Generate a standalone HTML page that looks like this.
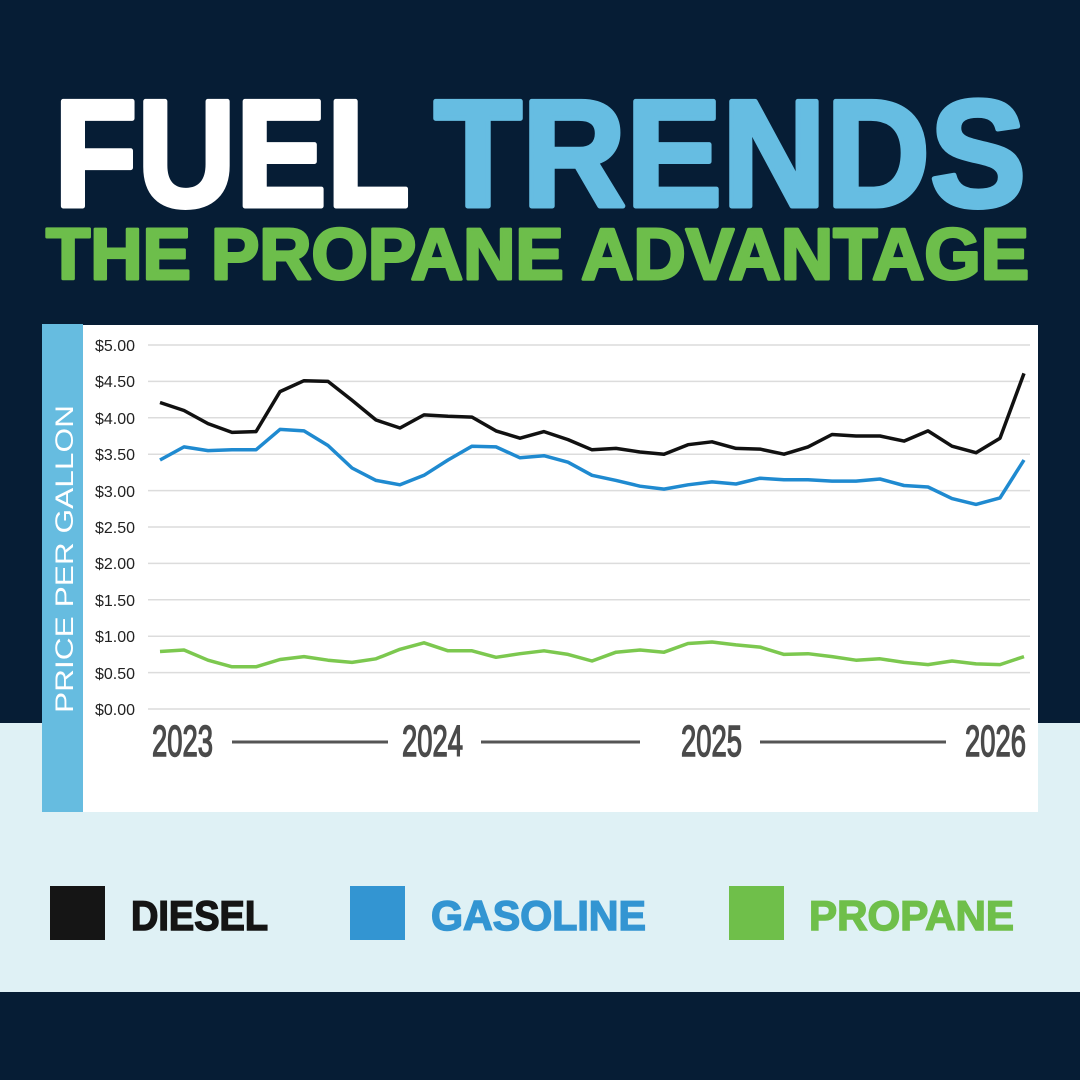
<!DOCTYPE html>
<html><head><meta charset="utf-8"><style>
html,body{margin:0;padding:0;background:#061d35;}
svg{display:block}
</style></head><body>
<svg width="1080" height="1080" viewBox="0 0 1080 1080" xmlns="http://www.w3.org/2000/svg">
<rect x="0" y="0" width="1080" height="1080" fill="#061d35"/>
<rect x="0" y="723" width="1080" height="269" fill="#dff1f5"/>
<text x="54" y="206" font-family="Liberation Sans, sans-serif" font-weight="bold" font-size="152" fill="#ffffff" stroke="#ffffff" stroke-width="5" stroke-linejoin="round" textLength="356" lengthAdjust="spacingAndGlyphs">FUEL</text>
<text x="434" y="206" font-family="Liberation Sans, sans-serif" font-weight="bold" font-size="152" fill="#66bde2" stroke="#66bde2" stroke-width="5" stroke-linejoin="round" textLength="592" lengthAdjust="spacingAndGlyphs">TRENDS</text>
<text x="46" y="279" font-family="Liberation Sans, sans-serif" font-weight="bold" font-size="72" fill="#6dbe4b" stroke="#6dbe4b" stroke-width="3" stroke-linejoin="round" textLength="983" lengthAdjust="spacingAndGlyphs">THE PROPANE ADVANTAGE</text>
<rect x="82" y="325" width="956" height="487" fill="#ffffff"/>
<rect x="42" y="324" width="41" height="488" fill="#66bce0"/>
<text transform="translate(73,713) rotate(-90)" font-family="Liberation Sans, sans-serif" font-size="25" fill="#ffffff" textLength="308" lengthAdjust="spacingAndGlyphs">PRICE PER GALLON</text>
<g stroke="#dcdcdc" stroke-width="1.5">
<line x1="148" x2="1030" y1="345" y2="345"/><line x1="148" x2="1030" y1="381.4" y2="381.4"/><line x1="148" x2="1030" y1="417.8" y2="417.8"/><line x1="148" x2="1030" y1="454.2" y2="454.2"/><line x1="148" x2="1030" y1="490.6" y2="490.6"/><line x1="148" x2="1030" y1="527" y2="527"/><line x1="148" x2="1030" y1="563.4" y2="563.4"/><line x1="148" x2="1030" y1="599.8" y2="599.8"/><line x1="148" x2="1030" y1="636.2" y2="636.2"/><line x1="148" x2="1030" y1="672.6" y2="672.6"/><line x1="148" x2="1030" y1="709" y2="709"/>
</g>
<g font-family="Liberation Sans, sans-serif" font-size="16" fill="#222">
<text x="95" y="351">$5.00</text><text x="95" y="387">$4.50</text><text x="95" y="424">$4.00</text><text x="95" y="460">$3.50</text><text x="95" y="497">$3.00</text><text x="95" y="533">$2.50</text><text x="95" y="569">$2.00</text><text x="95" y="606">$1.50</text><text x="95" y="642">$1.00</text><text x="95" y="679">$0.50</text><text x="95" y="715">$0.00</text>
</g>
<g font-family="Liberation Sans Narrow, Liberation Sans, sans-serif" font-size="44" fill="#4a4a4a" stroke="#4a4a4a" stroke-width="1.5">
<text x="152" y="756" textLength="61" lengthAdjust="spacingAndGlyphs">2023</text>
<text x="402" y="756" textLength="61" lengthAdjust="spacingAndGlyphs">2024</text>
<text x="681" y="756" textLength="61" lengthAdjust="spacingAndGlyphs">2025</text>
<text x="965" y="756" textLength="61" lengthAdjust="spacingAndGlyphs">2026</text>
</g>
<g stroke="#555" stroke-width="3">
<line x1="232" x2="388" y1="742" y2="742"/><line x1="481" x2="640" y1="742" y2="742"/><line x1="760" x2="946" y1="742" y2="742"/>
</g>
<rect x="50" y="886" width="55" height="54" fill="#151515"/>
<rect x="350" y="886" width="55" height="54" fill="#3395d2"/>
<rect x="729" y="886" width="55" height="54" fill="#6fbf4a"/>
<g font-family="Liberation Sans, sans-serif" font-weight="bold" font-size="42">
<text x="131" y="930" fill="#151515" stroke="#151515" stroke-width="1.5" textLength="137" lengthAdjust="spacingAndGlyphs">DIESEL</text>
<text x="431" y="930" fill="#3395d2" stroke="#3395d2" stroke-width="1.5" textLength="215" lengthAdjust="spacingAndGlyphs">GASOLINE</text>
<text x="809" y="930" fill="#6fbf4a" stroke="#6fbf4a" stroke-width="1.5" textLength="205" lengthAdjust="spacingAndGlyphs">PROPANE</text>
</g>
<polyline id="d" fill="none" stroke="#111" stroke-width="3.5" stroke-linejoin="round" points=""/>
<polyline id="g" fill="none" stroke="#1f8ad0" stroke-width="3.5" stroke-linejoin="round" points=""/>
<polyline id="p" fill="none" stroke="#7cc84f" stroke-width="3.5" stroke-linejoin="round" points=""/>
</svg>
<script>
var D=[4.21,4.10,3.92,3.80,3.81,4.36,4.51,4.50,4.24,3.97,3.86,4.04,4.02,4.01,3.82,3.72,3.81,3.70,3.56,3.58,3.53,3.50,3.63,3.67,3.58,3.57,3.50,3.60,3.77,3.75,3.75,3.68,3.82,3.61,3.52,3.72,4.61];
var G=[3.42,3.60,3.55,3.56,3.56,3.84,3.82,3.62,3.31,3.14,3.08,3.21,3.42,3.61,3.60,3.45,3.48,3.39,3.21,3.14,3.06,3.02,3.08,3.12,3.09,3.17,3.15,3.15,3.13,3.13,3.16,3.07,3.05,2.89,2.81,2.90,3.42];
var P=[0.79,0.81,0.67,0.58,0.58,0.68,0.72,0.67,0.64,0.69,0.82,0.91,0.80,0.80,0.71,0.76,0.80,0.75,0.66,0.78,0.81,0.78,0.90,0.92,0.88,0.85,0.75,0.76,0.72,0.67,0.69,0.64,0.61,0.66,0.62,0.61,0.72];
function pts(a){return a.map(function(v,i){return (160+i*24).toFixed(1)+","+(709-v*72.8).toFixed(1)}).join(" ")}
document.getElementById("d").setAttribute("points",pts(D));
document.getElementById("g").setAttribute("points",pts(G));
document.getElementById("p").setAttribute("points",pts(P));
</script>
</body></html>
